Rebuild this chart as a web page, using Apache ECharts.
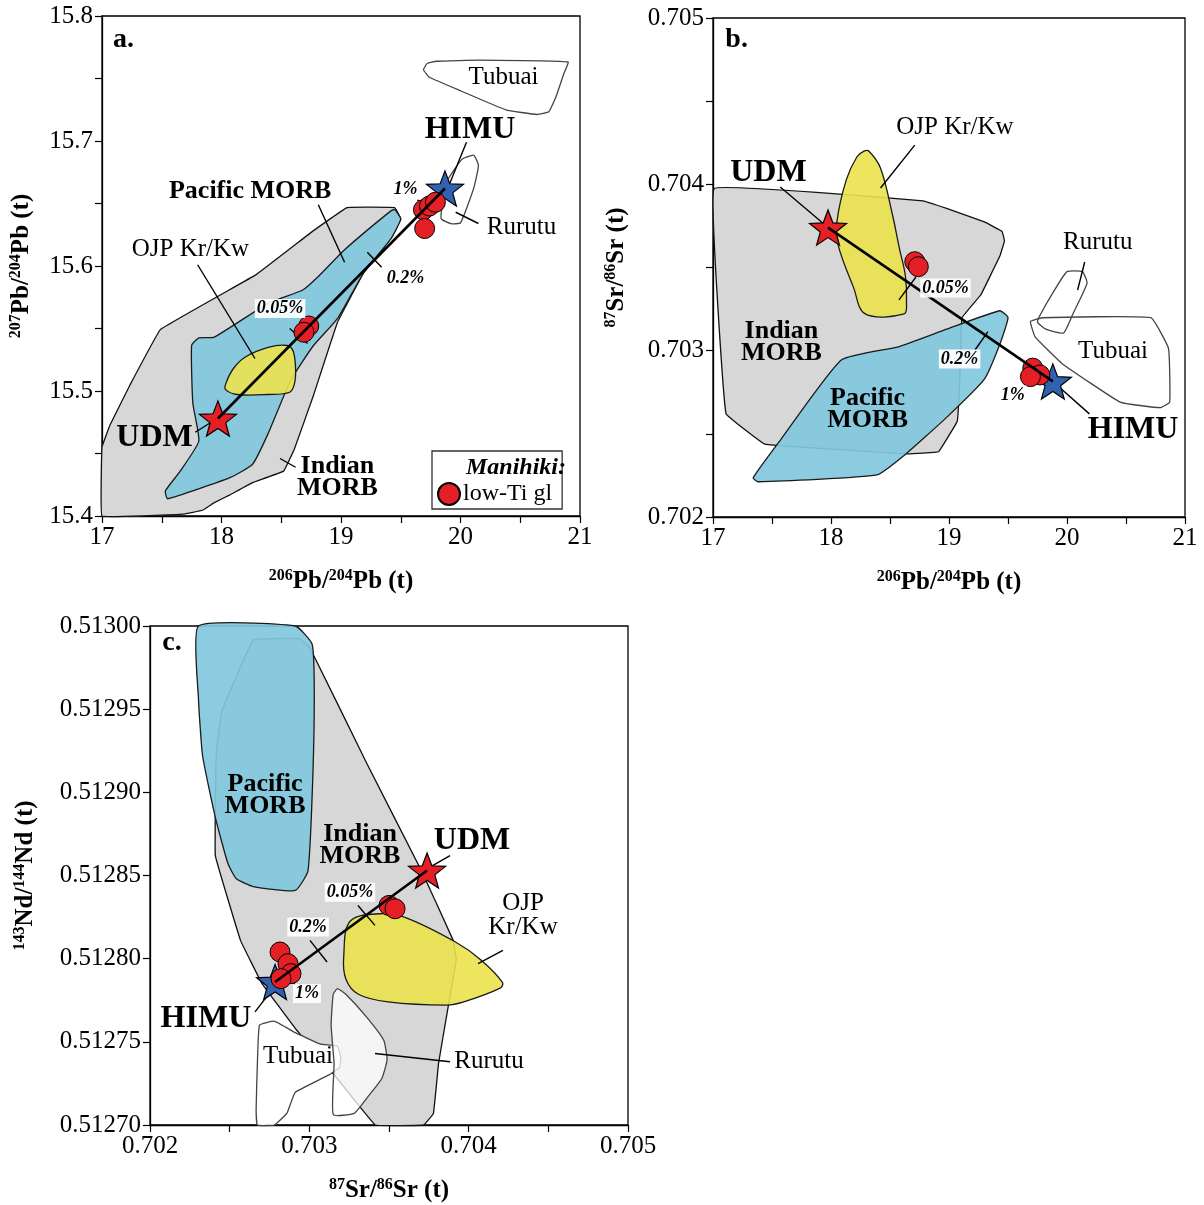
<!DOCTYPE html>
<html>
<head>
<meta charset="utf-8">
<script src="https://cdn.jsdelivr.net/npm/echarts@6/dist/echarts.min.js"></script>
<style>html,body{margin:0;padding:0;background:#fff}#chart{width:1204px;height:1205px}</style>
</head>
<body>
<div id="chart"></div>
<script>
// ---------------- DATA ----------------
// Panel a: 206Pb/204Pb vs 207Pb/204Pb
const indianA = [[17.0,15.4],[17.68,15.4015],[17.84,15.4046],[17.94,15.4107],[18.07,15.4169],[18.26,15.4267],[18.52,15.4359],[18.61,15.4536],[18.77,15.4966],[18.97,15.5548],[19.19,15.5946],[19.42,15.6222],[19.5,15.6376],[19.45,15.6467],[19.05,15.6467],[18.77,15.6283],[18.29,15.5931],[17.49,15.5493],[17.234,15.5048],[17.067,15.4728],[17.0,15.4552]];
const pacificA = [[19.45,15.6452],[19.5,15.6376],[19.42,15.6222],[19.19,15.5946],[18.97,15.5579],[18.77,15.5364],[18.58,15.5088],[18.39,15.4659],[18.26,15.4414],[18.07,15.4307],[17.55,15.4138],[17.53,15.42],[17.65,15.4353],[17.81,15.4598],[17.76,15.4904],[17.75,15.5364],[17.81,15.5425],[17.94,15.5431],[18.39,15.5701],[18.68,15.5808],[18.81,15.5916],[19.03,15.613],[19.42,15.6443]];
const ojpA = [[18.035,15.5057],[18.10,15.518],[18.20,15.5272],[18.39,15.5349],[18.55,15.5364],[18.60,15.5318],[18.62,15.518],[18.61,15.5057],[18.57,15.499],[18.39,15.4972],[18.13,15.4972],[18.035,15.5011]];
const tubuaiA = [[19.69,15.757],[19.72,15.762],[19.80,15.7638],[20.16,15.7647],[20.90,15.7632],[20.865,15.754],[20.80,15.7356],[20.74,15.7234],[20.64,15.7212],[20.38,15.7249],[20.00,15.7402],[19.74,15.751]];
const rurutuA = [[19.84,15.6437],[19.88,15.6667],[20.01,15.6851],[20.11,15.6887],[20.15,15.6805],[20.11,15.6621],[20.00,15.6345],[19.92,15.6339],[19.84,15.6376]];
const glassA = [[19.69,15.645],[19.74,15.648],[19.79,15.651],[19.70,15.630],[18.73,15.552],[18.69,15.547]];
const udmA = [17.97,15.478];
const himuA = [19.87,15.662];
const segA = [[20.05,15.699,19.91,15.666],[20.15,15.634,19.96,15.643],[18.81,15.649,19.03,15.603],[17.80,15.601,18.28,15.526],[17.78,15.467,17.93,15.476],[18.62,15.439,18.49,15.446],
  [18.57,15.550,18.72,15.538],[19.22,15.611,19.34,15.599],[19.64,15.653,19.77,15.642]];
const textA = [['a.',17.18,15.781,'panel'],['HIMU',20.08,15.709,'big'],['Tubuai',20.36,15.751,'norm'],['Rurutu',20.51,15.631,'norm'],['Pacific MORB',18.24,15.66,'bold'],['OJP Kr/Kw',17.74,15.613,'norm'],['1%',19.54,15.661,'pct'],['0.2%',19.54,15.590,'pct'],['0.05%',18.49,15.566,'pct'],['UDM',17.44,15.463,'big'],['Indian\nMORB',18.97,15.431,'bold']];

// Panel b: 206Pb/204Pb vs 87Sr/86Sr
const indianB = [[17.01,0.703975],[18.78,0.703901],[18.98,0.703855],[19.30,0.703774],[19.45,0.703717],[19.47,0.703659],[19.43,0.703567],[19.27,0.703336],[19.11,0.703198],[19.09,0.702806],[19.07,0.702576],[18.91,0.702392],[18.65,0.70238],[17.44,0.702438],[17.11,0.702622]];
const pacificB = [[17.34,0.702235],[17.57,0.702461],[18.09,0.702945],[18.58,0.703025],[18.98,0.703129],[19.43,0.70324],[19.50,0.703198],[19.43,0.703037],[19.30,0.702829],[18.98,0.702599],[18.62,0.70237],[18.39,0.702253],[17.38,0.702212]];
const ojpB = [[18.32,0.7042],[18.42,0.704097],[18.52,0.70382],[18.58,0.703613],[18.63,0.703452],[18.64,0.70329],[18.62,0.703221],[18.29,0.703221],[18.19,0.703382],[18.06,0.703636],[18.05,0.703774],[18.13,0.704028],[18.22,0.704166],[18.28,0.7042]];
const rurutuB = [[19.76,0.703198],[19.89,0.703359],[20.00,0.703475],[20.13,0.703475],[20.17,0.703406],[20.05,0.703221],[19.97,0.703106],[19.82,0.703129],[19.75,0.70317]];
const tubuaiB = [[19.69,0.703175],[19.79,0.703198],[20.71,0.703198],[20.86,0.703014],[20.87,0.702691],[20.79,0.702657],[20.45,0.702691],[19.96,0.702922],[19.73,0.703083]];
const glassB = [[18.71,0.703535],[18.74,0.703505],[19.71,0.702895],[19.77,0.702854],[19.69,0.702844]];
const udmB = [17.975,0.70374];
const himuB = [19.88,0.702815];
const segB = [[18.71,0.704236,18.42,0.703978],[17.57,0.703984,17.95,0.703755],[19.88,0.702815,20.19,0.70262],[20.15,0.703533,20.09,0.703365],
  [18.576,0.703305,18.72,0.703443],[19.22,0.703004,19.33,0.703114],[19.66,0.702824,19.79,0.702914]];
const textB = [['b.',17.20,0.704868,'panel'],['OJP Kr/Kw',19.05,0.704345,'norm'],['UDM',17.47,0.704068,'big'],['Rurutu',20.26,0.703653,'norm'],['0.05%',18.97,0.703377,'pct'],['Indian\nMORB',17.58,0.703052,'bold'],['Tubuai',20.39,0.702998,'norm'],['0.2%',19.09,0.70295,'pct'],['Pacific\nMORB',18.31,0.702649,'bold'],['1%',19.54,0.702733,'pct'],['HIMU',20.56,0.702523,'big']];

// Panel c: 87Sr/86Sr vs 143Nd/144Nd
const indianC = [[0.702648,0.5129917],[0.702938,0.5129924],[0.703005,0.5129866],[0.703361,0.5129173],[0.703705,0.5128526],[0.703903,0.512811],[0.703922,0.5127994],[0.703864,0.512767],[0.703811,0.512737],[0.703779,0.512707],[0.703718,0.5127],[0.703414,0.5127],[0.703176,0.5127278],[0.702912,0.512758],[0.7027,0.5127855],[0.702568,0.512811],[0.70241,0.512862],[0.702415,0.512922],[0.702449,0.5129485]];
const pacificC = [[0.702304,0.513],[0.702912,0.513],[0.703018,0.512989],[0.703031,0.5129566],[0.703018,0.5128988],[0.702991,0.5128526],[0.702912,0.512841],[0.702648,0.5128433],[0.702542,0.512848],[0.702489,0.5128572],[0.70241,0.512885],[0.70233,0.512922],[0.702304,0.5129566]];
const ojpC = [[0.703256,0.5128225],[0.703441,0.512827],[0.7036,0.5128248],[0.703917,0.51281],[0.704075,0.5127994],[0.704213,0.5127856],[0.704194,0.5127821],[0.703969,0.512774],[0.703864,0.5127721],[0.703494,0.512774],[0.703308,0.5127786],[0.703229,0.5127878],[0.703216,0.5128017]];
const tubuaiC = [[0.702687,0.51276],[0.70278,0.5127624],[0.702912,0.5127555],[0.703071,0.5127486],[0.703176,0.5127474],[0.703197,0.5127405],[0.70319,0.5127347],[0.703123,0.5127301],[0.702912,0.5127197],[0.702886,0.5127139],[0.702859,0.512707],[0.70278,0.5127],[0.702674,0.5127],[0.702666,0.5127093],[0.702674,0.512737]];
const rurutuC = [[0.70315,0.5127786],[0.703176,0.512782],[0.703229,0.5127786],[0.703361,0.5127647],[0.703467,0.5127509],[0.703488,0.5127393],[0.703454,0.5127278],[0.703361,0.5127162],[0.703282,0.512707],[0.70315,0.5127063],[0.703155,0.512737],[0.703137,0.51276]];
const glassC = [[0.7035,0.512832],[0.703538,0.51283],[0.702816,0.512804],[0.702866,0.512797],[0.702885,0.512791],[0.702822,0.512788]];
const udmC = [0.703739,0.512853];
const himuC = [0.702785,0.512786];
const segC = [[0.703757,0.512855,0.703883,0.512862],[0.704215,0.512805,0.704059,0.512797],[0.702659,0.512768,0.702772,0.512782],[0.703883,0.512738,0.703412,0.512743],
  [0.703305,0.512832,0.703412,0.51282],[0.703004,0.512811,0.703111,0.512798],[0.702835,0.512796,0.70291,0.512784]];
const textC = [['c.',0.702138,0.51299,'panel'],['Pacific\nMORB',0.702722,0.512898,'bold'],['Indian\nMORB',0.703318,0.512868,'bold'],['UDM',0.704021,0.512871,'big'],['0.05%',0.703255,0.51284,'pct'],['OJP\nKr/Kw',0.704341,0.512826,'norm'],['0.2%',0.702992,0.512819,'pct'],['1%',0.702985,0.512779,'pct'],['HIMU',0.702351,0.512764,'big'],['Tubuai',0.702929,0.512741,'norm'],['Rurutu',0.704128,0.512738,'norm']];

// axis ranges / ticks: [min, max, tick interval, label step, decimals]
const axA = {x:[17,21,0.5,1,0], y:[15.4,15.8,0.05,0.1,1]};
const axB = {x:[17,21,0.5,1,0], y:[0.702,0.705,0.0005,0.001,3]};
const axC = {x:[0.702,0.705,0.0005,0.001,3], y:[0.5127,0.513,0.00005,0.00005,5]};
const titles = [
  ['{s|206}{m|Pb/}{s|204}{m|Pb (t)}','{s|207}{m|Pb/}{s|204}{m|Pb (t)}'],
  ['{s|206}{m|Pb/}{s|204}{m|Pb (t)}','{s|87}{m|Sr/}{s|86}{m|Sr (t)}'],
  ['{s|87}{m|Sr/}{s|86}{m|Sr (t)}','{s|143}{m|Nd/}{s|144}{m|Nd (t)}']
];

// ---------------- STYLE ----------------
const FONT = '"Liberation Serif","Times New Roman",serif';
const STAR = 'path://M0,-10L2.469,-3.398L9.511,-3.09L3.994,1.298L5.878,8.09L0,4.2L-5.878,8.09L-3.994,1.298L-9.511,-3.09L-2.469,-3.398Z';
const RED = '#e41f26', BLUE = '#2f63b0';
const LABEL_STYLE = {
  big:{fontSize:32, fontWeight:'bold', lineHeight:34},
  bold:{fontSize:26, fontWeight:'bold', lineHeight:22},
  norm:{fontSize:25, lineHeight:24},
  pct:{fontSize:18, fontWeight:'bold', fontStyle:'italic', backgroundColor:'rgba(255,255,255,0.92)', padding:[1,2,0,2]},
  panel:{fontSize:28, fontWeight:'bold'}
};
const grids = [
  {left:102, top:16, width:478, height:500},
  {left:713, top:18, width:472, height:499},
  {left:150, top:626, width:478, height:499}
];
const yGap = [66, 82, 110];

function fmt(step, digits){
  return v => { const k = v/step; return Math.abs(k-Math.round(k))<1e-6 ? v.toFixed(digits) : ''; };
}
function axis(i, a, isY){
  const [min,max,interval,step,digits] = a;
  return {
    type:'value', gridIndex:i, min, max, interval,
    name: titles[i][isY?1:0], nameLocation:'middle', nameGap: isY ? yGap[i] : 52,
    nameTextStyle:{color:'#000', fontFamily:FONT, fontWeight:'bold', fontSize:25,
      rich:{s:{fontSize:16, fontWeight:'bold', fontFamily:FONT, verticalAlign:'top', lineHeight:16, color:'#000'},
            m:{fontSize:25, fontWeight:'bold', fontFamily:FONT, lineHeight:28, color:'#000'}}},
    axisLine:{show:true, onZero:false, lineStyle:{color:'#000', width:1.3}},
    axisTick:{show:true, inside:false, length:7, lineStyle:{color:'#000', width:1.2}},
    axisLabel:{formatter: fmt(step,digits), fontFamily:FONT, fontSize:25, color:'#000', margin:9, showMinLabel:true, showMaxLabel:true},
    splitLine:{show:false}
  };
}

function polySeries(i, pts, fill, stroke, smooth){
  return {
    type:'custom', xAxisIndex:i, yAxisIndex:i, silent:true, data: pts,
    encode:{x:0, y:1},
    renderItem:(params, api) => {
      if (params.dataIndex !== 0) return null;
      return {type:'polygon', shape:{points: pts.map(p => api.coord(p)), smooth: smooth||0},
              style:{fill: fill, stroke: stroke, lineWidth:1.3}};
    }
  };
}
function segSeries(i, segs){
  return {
    type:'custom', xAxisIndex:i, yAxisIndex:i, silent:true, data: segs,
    encode:{x:[0,2], y:[1,3]},
    renderItem:(params, api) => {
      const p1 = api.coord([api.value(0), api.value(1)]);
      const p2 = api.coord([api.value(2), api.value(3)]);
      return {type:'line', shape:{x1:p1[0], y1:p1[1], x2:p2[0], y2:p2[1]}, style:{stroke:'#000', lineWidth:1.4}};
    }
  };
}
function panel(i, P){
  const out = [];
  out.push(polySeries(i, P.indian, '#d7d7d7', '#111', 0.05));
  out.push(polySeries(i, P.pacific, 'rgba(130,200,222,0.92)', '#1a1a1a', 0.15));
  out.push(polySeries(i, P.ojp, 'rgba(236,226,78,0.9)', '#1a1a1a', 0.35));
  out.push(polySeries(i, P.tubuai, P.tubFill, '#444', 0.1));
  out.push(polySeries(i, P.rurutu, P.rurFill, '#444', 0.15));
  out.push({type:'scatter', xAxisIndex:i, yAxisIndex:i, silent:true, symbol:STAR, symbolKeepAspect:true, symbolSize:37,
    data:[{value:P.udm, itemStyle:{color:RED}}, {value:P.himu, itemStyle:{color:BLUE}}],
    itemStyle:{borderColor:'#000', borderWidth:1.2, opacity:1}});
  out.push({type:'scatter', name:'low-Ti gl', xAxisIndex:i, yAxisIndex:i, silent:true, symbol:'circle', symbolSize:20,
    data:P.glass, itemStyle:{color:RED, borderColor:'#000', borderWidth:1, opacity:1}});
  out.push({type:'line', xAxisIndex:i, yAxisIndex:i, silent:true, symbol:'none', data:[P.udm, P.himu],
    lineStyle:{color:'#000', width:2.6}});
  out.push(segSeries(i, P.segs));
  out.push({type:'scatter', xAxisIndex:i, yAxisIndex:i, silent:true, symbolSize:1, itemStyle:{color:'rgba(0,0,0,0)', opacity:1}, z:10,
    data: P.text.map(([t,x,y,k]) => ({name:t, value:[x,y],
      label:Object.assign({show:true, position:'inside', formatter:'{b}', color:'#000', opacity:1, fontFamily:FONT}, LABEL_STYLE[k])}))});
  return out;
}

const series = [].concat(
  panel(0, {indian:indianA, pacific:pacificA, ojp:ojpA, tubuai:tubuaiA, rurutu:rurutuA, tubFill:'rgba(255,255,255,0)', rurFill:'rgba(255,255,255,0)', glass:glassA, udm:udmA, himu:himuA, segs:segA, text:textA}),
  panel(1, {indian:indianB, pacific:pacificB, ojp:ojpB, tubuai:tubuaiB, rurutu:rurutuB, tubFill:'rgba(255,255,255,0)', rurFill:'rgba(255,255,255,0)', glass:glassB, udm:udmB, himu:himuB, segs:segB, text:textB}),
  panel(2, {indian:indianC, pacific:pacificC, ojp:ojpC, tubuai:tubuaiC, rurutu:rurutuC, tubFill:'#ffffff', rurFill:'rgba(255,255,255,0.75)', glass:glassC, udm:udmC, himu:himuC, segs:segC, text:textC})
);

const chart = echarts.init(document.getElementById('chart'), null, {renderer:'canvas'});
chart.setOption({
  animation:false,
  backgroundColor:'#fff',
  grid: grids.map(g => Object.assign({show:true, borderColor:'#000', borderWidth:1.3, backgroundColor:'rgba(0,0,0,0)'}, g)),
  xAxis:[axis(0, axA.x, false), axis(1, axB.x, false), axis(2, axC.x, false)],
  yAxis:[axis(0, axA.y, true), axis(1, axB.y, true), axis(2, axC.y, true)],
  legend:{data:['low-Ti gl'], left:432, top:451, padding:[31,10,3,5], itemWidth:22, itemHeight:22, itemGap:0, icon:'circle',
    selectedMode:false, borderColor:'#333', borderWidth:1.3, backgroundColor:'#fff',
    textStyle:{fontFamily:FONT, fontSize:24, color:'#000', padding:[0,0,0,-2]}},
  graphic:[{type:'text', z:100, x:566, y:468, style:{text:'Manihiki:', font:'italic bold 24px "Liberation Serif"', fill:'#000', align:'right', verticalAlign:'middle', textAlign:'right', textVerticalAlign:'middle'}}],
  series
});
</script>
</body>
</html>
